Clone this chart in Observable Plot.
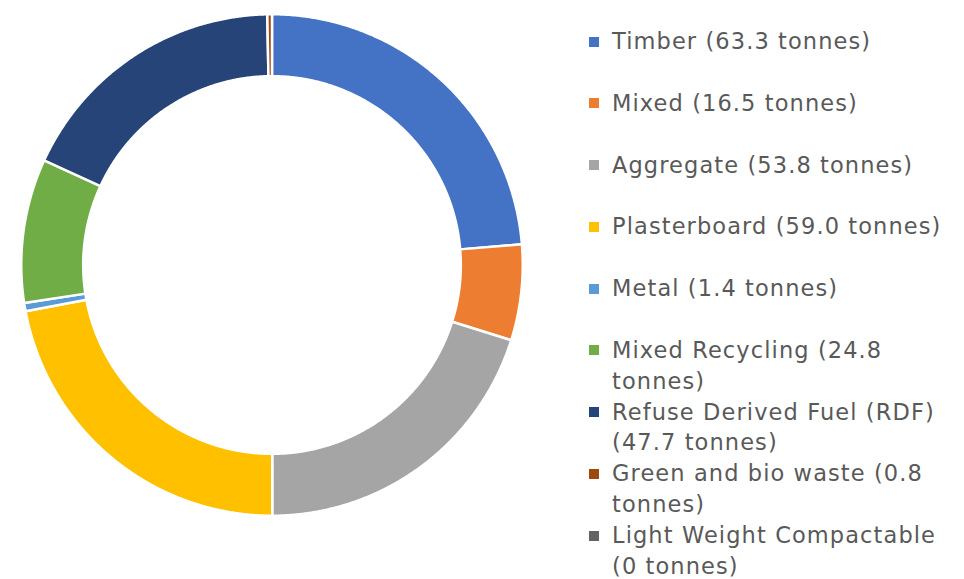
<!DOCTYPE html>
<html>
<head>
<meta charset="utf-8">
<script src="https://cdn.jsdelivr.net/npm/d3@7"></script>
<script src="https://cdn.jsdelivr.net/npm/@observablehq/plot@0.6"></script>
<style>
  html, body { margin: 0; padding: 0; background: #fff; }
  #wrap { position: relative; width: 964px; height: 579px; overflow: hidden; }
  #legend { position: absolute; left: 589px; top: 26px; font-family: "DejaVu Sans", sans-serif; font-size: 22.5px; letter-spacing: 1.1px; color: #595959; }
  .entry { position: relative; height: 61.75px; padding-left: 23px; line-height: 30.875px; white-space: pre; }
  .sw { position: absolute; left: 0; top: 10.7px; width: 10px; height: 10px; }
</style>
</head>
<body>
<div id="wrap"><div id="chart"></div><div id="legend"></div></div>
<script>
const names = ["Timber", "Mixed", "Aggregate", "Plasterboard", "Metal", "Mixed Recycling", "Refuse Derived Fuel (RDF)", "Green and bio waste", "Light Weight Compactable"];
const tonnes = [63.3, 16.5, 53.8, 59.0, 1.4, 24.8, 47.7, 0.8, 0];
const colors = ["#4472C4", "#ED7D31", "#A5A5A5", "#FFC000", "#5B9BD5", "#70AD47", "#264478", "#9E480E", "#636363"];
const legendLabels = [
  "Timber (63.3 tonnes)",
  "Mixed (16.5 tonnes)",
  "Aggregate (53.8 tonnes)",
  "Plasterboard (59.0 tonnes)",
  "Metal (1.4 tonnes)",
  "Mixed Recycling (24.8\ntonnes)",
  "Refuse Derived Fuel (RDF)\n(47.7 tonnes)",
  "Green and bio waste (0.8\ntonnes)",
  "Light Weight Compactable\n(0 tonnes)"
];

const innerRatio = 0.753;
const arcs = d3.pie().sort(null).value(d => d)(tonnes);
const pts = [];
arcs.forEach((p, i) => {
  const span = p.endAngle - p.startAngle;
  if (span <= 0) return;
  const n = Math.max(2, Math.ceil(span / 0.005));
  const ring = [];
  for (let k = 0; k <= n; k++) {
    const a = p.startAngle + span * k / n;
    ring.push({name: names[i], x: Math.sin(a), y: Math.cos(a)});
  }
  for (let k = n; k >= 0; k--) {
    const a = p.startAngle + span * k / n;
    ring.push({name: names[i], x: innerRatio * Math.sin(a), y: innerRatio * Math.cos(a)});
  }
  ring.push(ring[0]);
  pts.push(...ring);
});

const chart = Plot.plot({
  width: 964,
  height: 579,
  margin: 0,
  x: {domain: [-1, 1], range: [20.75, 522.25], axis: null},
  y: {domain: [-1, 1], range: [515.25, 13.75], axis: null},
  color: {domain: names, range: colors},
  marks: [
    Plot.line(pts, {x: "x", y: "y", z: "name", fill: "name", stroke: "white", strokeWidth: 2.5, curve: "linear"})
  ]
});
document.getElementById("chart").appendChild(chart);

const legend = document.getElementById("legend");
legendLabels.forEach((label, i) => {
  const e = document.createElement("div");
  e.className = "entry";
  const s = document.createElement("span");
  s.className = "sw";
  s.style.background = colors[i];
  e.appendChild(s);
  e.appendChild(document.createTextNode(label));
  legend.appendChild(e);
});
</script>
</body>
</html>
